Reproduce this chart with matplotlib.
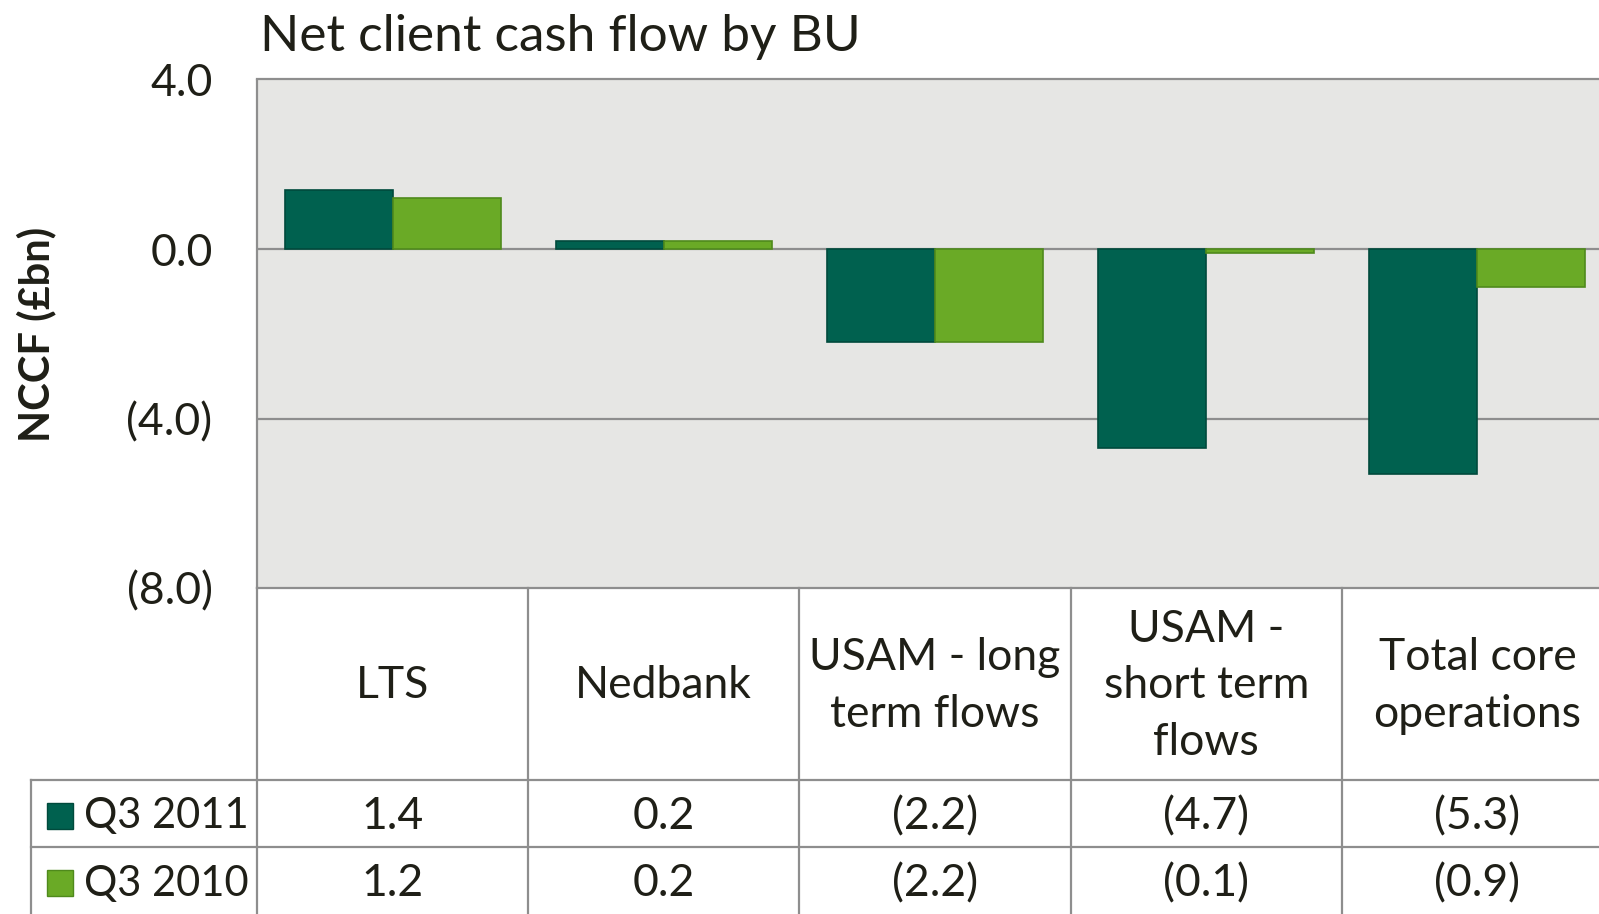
import matplotlib
matplotlib.use("Agg")
import matplotlib.pyplot as plt
from matplotlib.lines import Line2D
from matplotlib.patches import Rectangle
import numpy as np

categories = ["LTS", "Nedbank", "USAM - long\nterm flows", "USAM -\nshort term\nflows", "Total core\noperations"]
series_names = ["Q3 2011", "Q3 2010"]
q3_2011 = [1.4, 0.2, -2.2, -4.7, -5.3]
q3_2010 = [1.2, 0.2, -2.2, -0.1, -0.9]
yticks = [4.0, 0.0, -4.0, -8.0]
ytick_labels = ["4.0", "0.0", "(4.0)", "(8.0)"]
title = "Net client cash flow by BU"
ylabel = "NCCF (£bn)"

def fmt(v):
    return f"({abs(v):.1f})" if v < 0 else f"{v:.1f}"

W, H = 1599, 914
DPI = 100
plt.rcParams['font.family'] = ['Lato', 'DejaVu Sans']
TXT = '#1f1f17'
DARK = '#00614f'
LIGHT = '#6aaa26'
GRID = '#8e8e8e'
FS = 32

fig = plt.figure(figsize=(W / DPI, H / DPI), dpi=DPI)

def fx(px):
    return px / W

def fy(py):
    return 1 - py / H

plot_l, plot_r, plot_t, plot_b = 257, 1613, 79.5, 588
ax = fig.add_axes([fx(plot_l), fy(plot_b), fx(plot_r - plot_l), (plot_b - plot_t) / H])
ax.set_facecolor('#e6e6e4')
x = np.arange(len(categories))
bw = 0.398
ax.bar(x - bw / 2, q3_2011, bw, color=DARK, edgecolor='#004a3c', linewidth=1.2, zorder=3)
ax.bar(x + bw / 2, q3_2010, bw, color=LIGHT, edgecolor='#4f8a1c', linewidth=1.2, zorder=3)
ax.set_xlim(-0.5, len(categories) - 0.5)
ax.set_ylim(-8, 4)
ax.set_yticks(yticks)
ax.set_yticklabels(ytick_labels)
ax.tick_params(axis='y', length=0, pad=32, labelsize=FS, labelcolor=TXT)
ax.set_xticks([])
for yv in [0, -4]:
    ax.axhline(yv, color=GRID, lw=1.6, zorder=2)
for s in ['top', 'left', 'bottom']:
    ax.spines[s].set_color(GRID)
    ax.spines[s].set_linewidth(1.6)
ax.spines['right'].set_visible(False)

fig.text(fx(260), fy(37), title, fontsize=37, color=TXT, ha='left', va='center')
fig.text(fx(36), fy(334), ylabel, fontsize=30, fontweight='bold', color=TXT,
         rotation=90, ha='center', va='center')

# table
col_w = (plot_r - plot_l) / len(categories)
hdr_b, r1_b, r2_b = 780, 847, 914
leg_l = 31

def hline(y, x0, x1):
    fig.add_artist(Line2D([fx(x0), fx(x1)], [fy(y), fy(y)], color=GRID, lw=1.6))

def vline(xp, y0, y1):
    fig.add_artist(Line2D([fx(xp), fx(xp)], [fy(y0), fy(y1)], color=GRID, lw=1.6))

hline(hdr_b, leg_l, plot_r)
hline(r1_b, leg_l, plot_r)
vline(leg_l, hdr_b, H + 5)
for i in range(len(categories) + 1):
    vline(plot_l + i * col_w, plot_b, H + 5)

for i, cat in enumerate(categories):
    cx = plot_l + (i + 0.5) * col_w
    fig.text(fx(cx), fy((plot_b + hdr_b) / 2 + 2), cat, fontsize=FS, color=TXT,
             ha='center', va='center', linespacing=1.47)
    fig.text(fx(cx), fy((hdr_b + r1_b) / 2 + 3), fmt(q3_2011[i]), fontsize=FS, color=TXT,
             ha='center', va='center')
    fig.text(fx(cx), fy((r1_b + r2_b) / 2 + 3), fmt(q3_2010[i]), fontsize=FS, color=TXT,
             ha='center', va='center')

for (y0, y1), name, col, ec in [((hdr_b, r1_b), series_names[0], DARK, '#004a3c'),
                                ((r1_b, r2_b), series_names[1], LIGHT, '#4f8a1c')]:
    cy = (y0 + y1) / 2 + 2
    fig.add_artist(Rectangle((fx(47), fy(cy + 13)), fx(26), 26 / H, facecolor=col,
                             edgecolor=ec, lw=1.0, transform=fig.transFigure))
    fig.text(fx(84), fy(cy + 1), name, fontsize=30, color=TXT, ha='left', va='center')

fig.savefig('out.png', dpi=DPI)
